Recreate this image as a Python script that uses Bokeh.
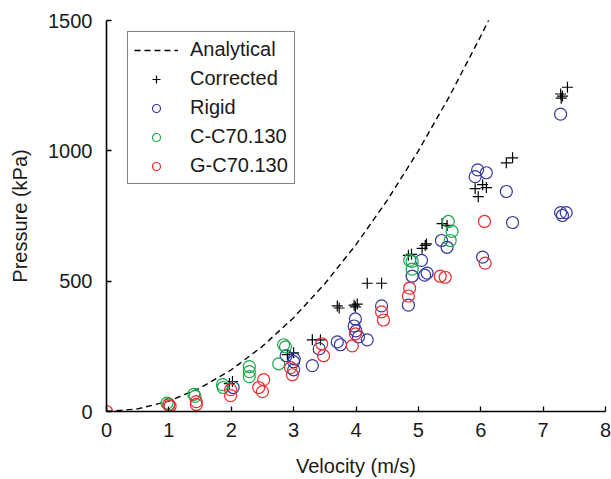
from bokeh.plotting import figure
from bokeh.models import Range1d, FixedTicker, Legend, LegendItem
from bokeh.embed import file_html
from bokeh.resources import INLINE

# Analytical curve
ana_v = [0, 0.5, 1, 1.5, 2, 2.5, 3, 3.5, 4, 4.5, 5, 5.5, 6, 6.13]
ana_p = [0, 10, 40, 90, 160, 250, 360, 490, 640, 810, 1000, 1210, 1440, 1503]

# Corrected
cor_v = [0, 1.97, 2.02, 2.9, 3.0, 3.3, 3.43, 3.7, 3.73, 3.97, 4.02, 3.99, 4.18, 4.41,
         4.84, 4.89, 5.06, 5.11, 5.13, 5.38, 5.46, 5.91, 6.03, 6.09, 5.96, 6.41, 6.51,
         7.28, 7.39, 7.31, 7.29]
cor_p = [0, 107, 115, 218, 225, 275, 275, 405, 397, 408, 412, 401, 492, 492,
         599, 603, 626, 637, 643, 721, 714, 855, 870, 859, 824, 954, 973,
         1218, 1244, 1210, 1202]

# Rigid
rig_v = [2.03, 2.88, 3.01, 3.0, 3.0, 3.3, 3.41, 3.7, 3.75, 3.99, 3.97, 4.0, 4.04, 4.18,
         4.41, 4.84, 4.9, 5.05, 5.1, 5.14, 5.37, 5.46, 5.95, 5.91, 6.09, 6.03, 6.41,
         6.51, 7.28, 7.28, 7.31, 7.37]
rig_p = [92, 214, 202, 191, 160, 176, 240, 267, 256, 355, 328, 309, 286, 275,
         405, 408, 519, 580, 523, 531, 656, 630, 927, 901, 916, 592, 844,
         725, 1141, 763, 752, 763]

# C-C70.130
cc_v = [0.97, 1.0, 1.4, 1.42, 1.86, 1.87, 2.29, 2.29, 2.29, 2.84, 2.87, 2.76,
        4.86, 4.9, 4.9, 5.48, 5.54, 5.51]
cc_p = [32, 28, 66, 58, 103, 92, 172, 153, 134, 256, 248, 183,
        580, 576, 546, 729, 691, 656]

# G-C70.130
gc_v = [0, 1.0, 1.02, 1.44, 1.44, 1.99, 1.99, 2.52, 2.44, 2.5, 2.95, 2.98, 3.45, 3.48,
        3.99, 3.94, 4.41, 4.44, 4.86, 4.84, 5.35, 5.43, 6.06, 6.07]
gc_p = [0, 25, 20, 38, 27, 84, 61, 122, 92, 76, 168, 141, 260, 214,
        298, 252, 382, 351, 473, 443, 519, 515, 729, 569]

x_ticks = [0, 1, 2, 3, 4, 5, 6, 7, 8]
y_ticks = [0, 500, 1000, 1500]

BLUE = "#34389a"
GREEN = "#19a64a"
RED = "#ec2a2f"
FONT = "Liberation Sans"
FS = "20px"

p = figure(width=611, height=479, output_backend="svg", toolbar_location=None,
           x_range=Range1d(0, 8), y_range=Range1d(0, 1500),
           min_border_left=106, min_border_right=6, min_border_top=20, min_border_bottom=66)
p.outline_line_color = None
p.grid.visible = False
p.background_fill_color = "white"
p.border_fill_color = "white"

for ax in (p.xaxis[0], p.yaxis[0]):
    ax.major_tick_in = 5
    ax.major_tick_out = 0
    ax.minor_tick_line_color = None
    ax.axis_line_width = 1.6
    ax.major_tick_line_width = 1.3
    ax.major_label_text_font = FONT
    ax.major_label_text_font_size = FS
    ax.major_label_text_color = "#1a1a1a"
    ax.axis_label_text_font = FONT
    ax.axis_label_text_font_size = FS
    ax.axis_label_text_font_style = "normal"
    ax.axis_label_text_color = "#1a1a1a"

p.xaxis.ticker = FixedTicker(ticks=x_ticks)
p.yaxis.ticker = FixedTicker(ticks=y_ticks)
p.xaxis.axis_label = "Velocity (m/s)"
p.yaxis.axis_label = "Pressure (kPa)"
p.xaxis.major_label_standoff = 11
p.yaxis.major_label_standoff = 14
p.xaxis.axis_label_standoff = 15
p.yaxis.axis_label_standoff = 14

r_ana = p.line(ana_v, ana_p, line_color="black", line_width=1.4, line_dash="6 4")
r_cor = p.scatter(cor_v, cor_p, marker="cross", size=11, line_color="black", line_width=1.2)
r_rig = p.scatter(rig_v, rig_p, marker="circle", size=12, line_color=BLUE, fill_color=None, line_width=1.2)
r_cc = p.scatter(cc_v, cc_p, marker="circle", size=12, line_color=GREEN, fill_color=None, line_width=1.2)
r_gc = p.scatter(gc_v, gc_p, marker="circle", size=12, line_color=RED, fill_color=None, line_width=1.2)

legend = Legend(items=[
    LegendItem(label="Analytical", renderers=[r_ana]),
    LegendItem(label="Corrected", renderers=[r_cor]),
    LegendItem(label="Rigid", renderers=[r_rig]),
    LegendItem(label="C-C70.130", renderers=[r_cc]),
    LegendItem(label="G-C70.130", renderers=[r_gc]),
], location=(21, 227))
legend.label_text_font = FONT
legend.label_text_font_size = FS
legend.label_text_color = "#1a1a1a"
legend.glyph_width = 44
legend.glyph_height = 20
legend.label_height = 20
legend.label_standoff = 12
legend.spacing = 6
legend.padding = 6
legend.margin = 0
legend.border_line_color = "black"
legend.border_line_width = 1
legend.background_fill_alpha = 1
p.add_layout(legend, "center")

open("out.html", "w").write(file_html(p, INLINE))
